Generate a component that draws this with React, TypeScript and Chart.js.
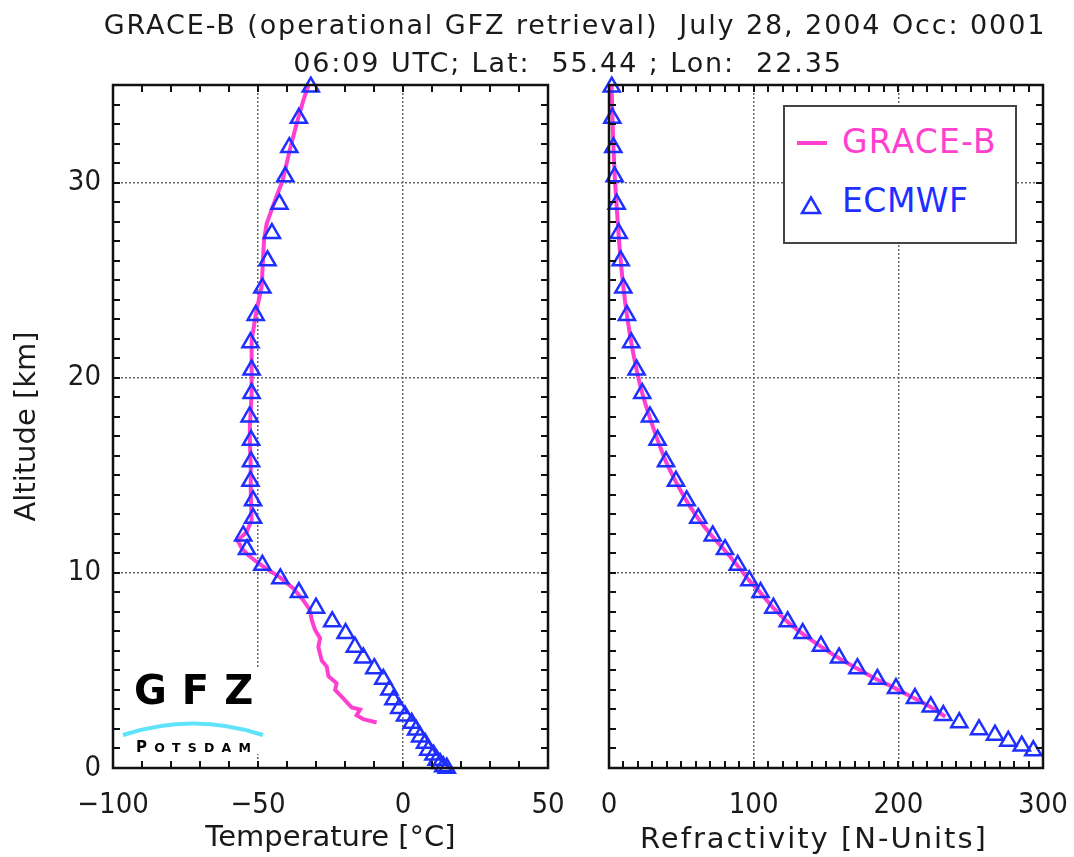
import React, { useEffect, useRef } from 'react';
import { Chart, registerables } from 'chart.js';

Chart.register(...registerables);

const FONT = '"DejaVu Sans Condensed", "DejaVu Sans", sans-serif';
const FONT_WIDE = '"DejaVu Sans", sans-serif';
const MAGENTA = '#ff3fcf';
const BLUE = '#1f2fff';
const GRID = '#666666';

const TITLE_1 = 'GRACE-B (operational GFZ retrieval)  July 28, 2004 Occ: 0001';
const TITLE_2 = '06:09 UTC; Lat:  55.44 ; Lon:  22.35';
const TEMP_TITLE = 'Temperature [°C]';
const REF_TITLE = 'Refractivity [N-Units]';
const ALT_TITLE = 'Altitude [km]';

// Altitude axis (km)
const ALT_MIN = 0;
const ALT_MAX = 35;
const ALT_MAJOR = 10;
const ALT_MINOR = 1;

// Temperature axis (°C)
const TEMP_MIN = -100;
const TEMP_MAX = 50;
const TEMP_MAJOR = 50;
const TEMP_MINOR = 10;

// Refractivity axis (N-units)
const REF_MIN = 0;
const REF_MAX = 300;
const REF_MAJOR = 100;
const REF_MINOR = 10;

// GRACE-B temperature profile
const graceTempAlt = [35.1, 34.2, 33.0, 31.7, 30.1, 29.3, 28.6, 27.9, 27.1, 25.7, 24.7, 23.3, 21.9, 20.6, 19.2, 17.5, 16.8, 15.4, 14.1, 12.7, 12.1, 11.65, 11.26, 10.9, 10.57, 10.2, 9.77, 9.2, 8.6, 8.1, 7.6, 7.07, 6.65, 6.2, 5.5, 5.2, 4.7, 4.34, 4.0, 3.57, 3.1, 3.0, 2.7, 2.5, 2.33];
const graceTemp = [-32.3, -34.4, -36.7, -39.0, -41.5, -43.6, -45.3, -47.0, -47.9, -48.4, -48.7, -50.7, -52.2, -52.2, -52.2, -52.8, -52.8, -52.5, -52.5, -52.2, -53.9, -57.0, -55.6, -53.3, -50.5, -47.0, -42.4, -37.8, -34.4, -32.1, -31.5, -30.3, -28.6, -29.2, -28.0, -26.3, -25.7, -22.9, -23.4, -20.6, -17.7, -14.8, -16.0, -13.7, -9.1];

// ECMWF temperature profile
const ecmwfTempAlt = [34.9, 33.3, 31.8, 30.3, 28.9, 27.4, 26.0, 24.6, 23.2, 21.8, 20.4, 19.2, 18.0, 16.8, 15.7, 14.7, 13.7, 12.8, 11.9, 11.2, 10.4, 9.7, 9.0, 8.2, 7.5, 6.9, 6.2, 5.65, 5.1, 4.55, 4.0, 3.5, 3.06, 2.67, 2.3, 1.95, 1.6, 1.27, 0.92, 0.67, 0.41, 0.24, 0.07, 0.0];
const ecmwfTemp = [-31.8, -35.9, -39.2, -40.6, -42.6, -45.2, -46.7, -48.5, -50.8, -52.6, -52.2, -52.2, -52.9, -52.4, -52.4, -52.6, -51.7, -51.7, -55.1, -53.8, -48.5, -42.3, -35.9, -30.0, -24.4, -19.8, -16.6, -13.7, -9.9, -6.8, -4.7, -3.3, -1.3, 0.7, 3.0, 4.5, 5.9, 7.6, 8.7, 10.5, 11.6, 12.8, 13.9, 15.1];

// GRACE-B refractivity profile
const graceRefAlt = [35.0, 33.3, 31.8, 30.3, 28.9, 27.4, 26.0, 24.6, 23.2, 21.8, 20.4, 19.2, 18.0, 16.8, 15.7, 14.7, 13.7, 12.8, 11.9, 11.2, 10.4, 9.6, 9.0, 8.2, 7.5, 6.9, 6.25, 5.65, 5.1, 4.55, 4.08, 3.57, 3.14, 2.63];
const graceRef = [1.8, 2.4, 3.1, 4.0, 5.2, 6.6, 8.1, 10.0, 12.4, 15.4, 19.1, 23.0, 28.0, 33.6, 39.4, 46.0, 53.5, 61.5, 71.0, 79.5, 88.5, 97.0, 104.5, 113.5, 123.3, 133.5, 146.0, 158.5, 171.5, 185.0, 198.0, 211.0, 222.0, 232.5];

// ECMWF refractivity profile
const ecmwfRefAlt = [34.9, 33.3, 31.8, 30.3, 28.9, 27.4, 26.0, 24.6, 23.2, 21.8, 20.4, 19.2, 18.0, 16.8, 15.7, 14.7, 13.7, 12.8, 11.9, 11.2, 10.4, 9.6, 9.0, 8.2, 7.5, 6.9, 6.25, 5.65, 5.1, 4.55, 4.08, 3.57, 3.14, 2.7, 2.33, 1.97, 1.69, 1.38, 1.13, 0.89];
const ecmwfRef = [1.9, 2.3, 3.0, 3.9, 5.3, 6.7, 8.1, 9.9, 12.4, 15.4, 19.1, 23.0, 28.3, 33.6, 39.4, 46.3, 53.7, 61.7, 71.7, 80.2, 89.0, 97.0, 104.8, 113.6, 123.5, 133.9, 146.5, 159.0, 171.7, 185.5, 198.4, 211.5, 222.4, 231.1, 242.1, 255.8, 266.8, 276.0, 285.3, 293.3];

const toPoints = (xs: number[], ys: number[]) => xs.map((x, i) => ({ x, y: ys[i] }));

const framePlugin = {
  id: 'frameTicks',
  afterDraw(chart: any, _args: any, opts: any) {
    const { ctx, chartArea: a, scales } = chart;
    const xs = scales.x;
    const ys = scales.y;
    const L = 7;
    ctx.save();
    ctx.strokeStyle = '#111';
    ctx.lineWidth = 2;
    ctx.beginPath();
    for (let v = opts.xMin; v <= opts.xMax + 1e-9; v += opts.xStep) {
      const px = Math.round(xs.getPixelForValue(v));
      ctx.moveTo(px, a.bottom);
      ctx.lineTo(px, a.bottom - L);
      ctx.moveTo(px, a.top);
      ctx.lineTo(px, a.top + L);
    }
    for (let v = opts.yMin; v <= opts.yMax + 1e-9; v += opts.yStep) {
      const py = Math.round(ys.getPixelForValue(v));
      ctx.moveTo(a.left, py);
      ctx.lineTo(a.left + L, py);
      ctx.moveTo(a.right, py);
      ctx.lineTo(a.right - L, py);
    }
    ctx.stroke();
    ctx.lineWidth = 2.5;
    ctx.strokeRect(a.left, a.top, a.right - a.left, a.bottom - a.top);
    ctx.restore();
  },
};

const gridColor = (min: number, max: number) => (c: any) =>
  c.tick && (c.tick.value === min || c.tick.value === max) ? 'rgba(0,0,0,0)' : GRID;

const fmt = (v: number) => (v < 0 ? '\u2212' + Math.abs(v) : String(v));

function makeConfig(p: {
  xMin: number; xMax: number; xMajor: number; xMinor: number; xTitle: string | null;
  yAxisWidth: number; showY: boolean; padRight: number;
  grace: { x: number; y: number }[]; ecmwf: { x: number; y: number }[];
  graceTension: number; ecmwfClip: any;
}): any {
  return {
    type: 'scatter',
    data: {
      datasets: [
        {
          label: 'ECMWF',
          data: p.ecmwf,
          showLine: false,
          pointStyle: 'triangle',
          pointRadius: 9.3,
          pointBorderWidth: 2.5,
          pointBorderColor: BLUE,
          pointBackgroundColor: 'rgba(0,0,0,0)',
          order: 0,
          clip: p.ecmwfClip,
        },
        {
          label: 'GRACE-B',
          data: p.grace,
          showLine: true,
          pointRadius: 0,
          borderColor: MAGENTA,
          borderWidth: 4,
          tension: p.graceTension,
          order: 1,
        },
      ],
    },
    options: {
      animation: false,
      responsive: false,
      events: [],
      layout: { padding: { top: 85, right: p.padRight, left: 0, bottom: 0 } },
      plugins: {
        legend: { display: false },
        tooltip: { enabled: false },
        frameTicks: { xMin: p.xMin, xMax: p.xMax, xStep: p.xMinor, yMin: ALT_MIN, yMax: ALT_MAX, yStep: ALT_MINOR },
      },
      scales: {
        x: {
          type: 'linear',
          min: p.xMin,
          max: p.xMax,
          afterFit(s: any) {
            s.height = 89;
            s.paddingLeft = 0;
            s.paddingRight = 0;
          },
          ticks: {
            stepSize: p.xMajor,
            autoSkip: false,
            maxRotation: 0,
            padding: 20,
            color: '#1a1a1a',
            font: { family: FONT, size: 29 },
            callback: (v: any) => fmt(Number(v)),
          },
          grid: { color: gridColor(p.xMin, p.xMax), lineWidth: 1.5, drawTicks: false },
          border: { display: false, dash: [2, 2] },
          title: {
            display: p.xTitle !== null,
            text: p.xTitle || '',
            color: '#1a1a1a',
            font: { family: FONT_WIDE, size: 29 },
            padding: { top: 0, bottom: 1 },
          },
        },
        y: {
          type: 'linear',
          min: ALT_MIN,
          max: ALT_MAX,
          afterFit(s: any) {
            s.width = p.yAxisWidth;
            s.paddingTop = 0;
            s.paddingBottom = 0;
          },
          ticks: {
            display: p.showY,
            stepSize: ALT_MAJOR,
            autoSkip: false,
            padding: 12,
            color: '#1a1a1a',
            font: { family: FONT, size: 29 },
            callback: (v: any) => (Number(v) % ALT_MAJOR === 0 ? String(v) : ''),
          },
          grid: { color: gridColor(ALT_MIN, ALT_MAX), lineWidth: 1.5, drawTicks: false },
          border: { display: false, dash: [2, 2] },
          title: {
            display: p.showY,
            text: ALT_TITLE,
            color: '#1a1a1a',
            font: { family: FONT_WIDE, size: 29 },
            padding: { top: 10, bottom: 0 },
          },
        },
      },
    },
    plugins: [framePlugin],
  };
}

export default function App() {
  const leftRef = useRef<HTMLCanvasElement>(null);
  const rightRef = useRef<HTMLCanvasElement>(null);

  useEffect(() => {
    const left = new Chart(leftRef.current as HTMLCanvasElement, makeConfig({
      xMin: TEMP_MIN, xMax: TEMP_MAX, xMajor: TEMP_MAJOR, xMinor: TEMP_MINOR,
      xTitle: TEMP_TITLE, yAxisWidth: 113, showY: true, padRight: 22,
      grace: toPoints(graceTemp, graceTempAlt),
      ecmwf: toPoints(ecmwfTemp, ecmwfTempAlt),
      graceTension: 0, ecmwfClip: 12,
    }));
    const right = new Chart(rightRef.current as HTMLCanvasElement, makeConfig({
      xMin: REF_MIN, xMax: REF_MAX, xMajor: REF_MAJOR, xMinor: REF_MINOR,
      xTitle: null, yAxisWidth: 39, showY: false, padRight: 31,
      grace: toPoints(graceRef, graceRefAlt),
      ecmwf: toPoints(ecmwfRef, ecmwfRefAlt),
      graceTension: 0.3, ecmwfClip: { left: 12, top: 12, right: 0, bottom: 12 },
    }));
    return () => {
      left.destroy();
      right.destroy();
    };
  }, []);

  const textStyle: React.CSSProperties = {
    position: 'absolute',
    left: 0,
    width: 1150,
    textAlign: 'center',
    whiteSpace: 'pre',
    fontFamily: FONT_WIDE,
    fontSize: 27,
    letterSpacing: 1.9,
    color: '#1a1a1a',
    lineHeight: '30px',
  };

  return (
    <div style={{ position: 'absolute', left: 0, top: 0, width: 1074, height: 857, background: '#fff', overflow: 'hidden' }}>
      <canvas ref={leftRef} width={570} height={857} style={{ position: 'absolute', left: 0, top: 0, width: 570, height: 857 }} />
      <canvas ref={rightRef} width={504} height={857} style={{ position: 'absolute', left: 570, top: 0, width: 504, height: 857 }} />

      <div style={{ ...textStyle, top: 10 }}>{TITLE_1}</div>
      <div style={{ ...textStyle, top: 48, width: 1136 }}>{TITLE_2}</div>

      {/* Right-hand x-axis title */}
      <div style={{ position: 'absolute', left: 640, top: 820, whiteSpace: 'pre', fontFamily: FONT_WIDE, fontSize: 29, letterSpacing: 2, lineHeight: '36px', color: '#1a1a1a' }}>{REF_TITLE}</div>

      {/* Legend */}
      <div style={{ position: 'absolute', left: 783, top: 105, width: 230, height: 135, border: '2px solid #444', background: '#fff' }}>
        <div style={{ position: 'absolute', left: 12, top: 34, width: 30, height: 4, background: MAGENTA }} />
        <div style={{ position: 'absolute', left: 57, top: 15, fontFamily: FONT_WIDE, fontSize: 33, letterSpacing: 1.2, lineHeight: '40px', color: MAGENTA }}>GRACE-B</div>
        <svg style={{ position: 'absolute', left: 14, top: 88 }} width={24} height={22}>
          <polygon points="12,2.5 21,18 3,18" fill="none" stroke={BLUE} strokeWidth={2.5} />
        </svg>
        <div style={{ position: 'absolute', left: 57, top: 74, fontFamily: FONT_WIDE, fontSize: 33, letterSpacing: 0.5, lineHeight: '40px', color: BLUE }}>ECMWF</div>
      </div>

      {/* GFZ Potsdam logo */}
      <div style={{ position: 'absolute', left: 121, top: 668, width: 148, height: 86, background: '#fff' }}>
        <div style={{ position: 'absolute', left: 13, top: 0, fontFamily: FONT_WIDE, fontWeight: 900, fontSize: 40, letterSpacing: 15, lineHeight: '44px', color: '#000' }}>GFZ</div>
        <svg style={{ position: 'absolute', left: 0, top: 48 }} width={148} height={22}>
          <path d="M 2 19 Q 72 -4 142 19" fill="none" stroke="#5fe3fa" strokeWidth={4} />
        </svg>
        <div style={{ position: 'absolute', left: 15, top: 72, fontFamily: FONT_WIDE, fontWeight: 700, fontSize: 12.5, letterSpacing: 7.2, lineHeight: '14px', color: '#000' }}>
          <span style={{ fontSize: 15 }}>P</span>OTSDAM
        </div>
      </div>
    </div>
  );
}
